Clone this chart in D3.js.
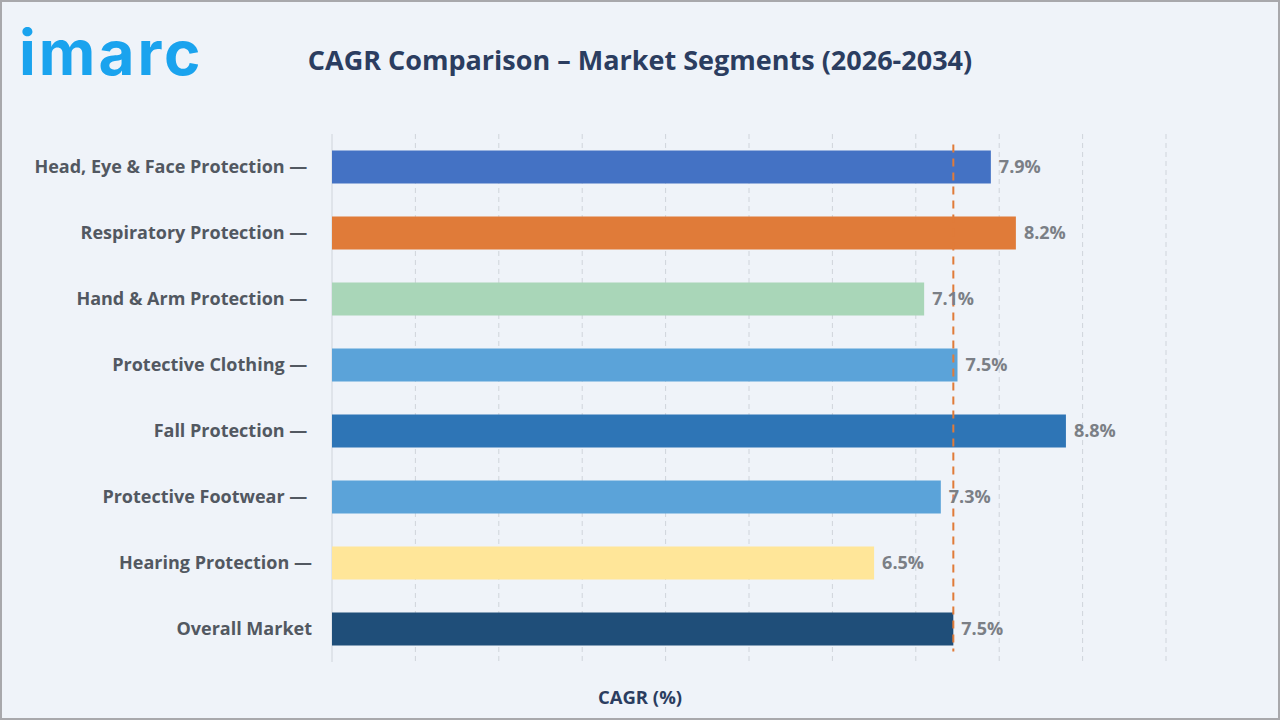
<!DOCTYPE html>
<html>
<head>
<meta charset="utf-8">
<script src="https://cdn.jsdelivr.net/npm/d3@7"></script>
<style>
  body { margin: 0; background: #ffffff; }
  svg { display: block; }
</style>
</head>
<body>
<svg id="chart" width="1280" height="720"></svg>
<script>
// chart data
var categories = [
    "Head, Eye & Face Protection \u2014 ",
    "Respiratory Protection \u2014 ",
    "Hand & Arm Protection \u2014 ",
    "Protective Clothing \u2014 ",
    "Fall Protection \u2014 ",
    "Protective Footwear \u2014 ",
    "Hearing Protection \u2014",
    "Overall Market"
];
var cagrValues = [7.9, 8.2, 7.1, 7.5, 8.8, 7.3, 6.5, 7.45];
var valueLabels = ["7.9%", "8.2%", "7.1%", "7.5%", "8.8%", "7.3%", "6.5%", "7.5%"];
var barColors = ["#4472c4", "#e07b39", "#a9d6b8", "#5ba3d9", "#2e75b6", "#5ba3d9", "#ffe699", "#1f4e79"];
var xTicks = [0, 1, 2, 3, 4, 5, 6, 7, 8, 9, 10];
var overallIndex = 7;

var svg = d3.select("#chart");
var W = 1280, H = 720;

// background + frame
svg.append("rect")
    .attr("x", 1).attr("y", 1)
    .attr("width", W - 2).attr("height", H - 2)
    .attr("fill", "#eff3f9")
    .attr("stroke", "#a8a8ac")
    .attr("stroke-width", 2);

// logo
svg.append("text")
    .attr("x", 19)
    .attr("y", 75)
    .style("font-family", "Inter, sans-serif")
    .style("font-weight", "700")
    .style("font-size", "62px")
    .style("letter-spacing", "3px")
    .style("fill", "#1aa3ee")
    .text("imarc");

// title
svg.append("text")
    .attr("x", 640)
    .attr("y", 70)
    .attr("text-anchor", "middle")
    .style("font-family", "'Open Sans', sans-serif")
    .style("font-weight", "700")
    .style("font-size", "27px")
    .style("fill", "#2b3d60")
    .text("CAGR Comparison \u2013 Market Segments (2026-2034)");

var margin = { left: 332, right: 114, top: 134, bottom: 58 };
var plotW = W - margin.left - margin.right;
var plotH = H - margin.top - margin.bottom;

var x = d3.scaleLinear().domain([0, 10]).range([0, plotW]);
var y = d3.scaleBand().domain(categories).range([0, plotH]).paddingInner(0.5).paddingOuter(0.25);

var g = svg.append("g").attr("transform", "translate(" + margin.left + "," + margin.top + ")");

// gridlines
g.append("g").attr("class", "grid")
    .selectAll("line")
    .data(xTicks)
    .enter()
    .append("line")
    .attr("x1", function (d) { return x(d); })
    .attr("x2", function (d) { return x(d); })
    .attr("y1", 0)
    .attr("y2", plotH)
    .attr("stroke", "#cfd4db")
    .attr("stroke-width", 1)
    .attr("stroke-dasharray", function (d) { return d === 0 ? null : "5,4"; });

// bars
g.append("g").attr("class", "bars")
    .selectAll("rect")
    .data(categories)
    .enter()
    .append("rect")
    .attr("x", 0)
    .attr("y", function (d) { return y(d); })
    .attr("width", function (d, i) { return x(cagrValues[i]); })
    .attr("height", y.bandwidth())
    .attr("fill", function (d, i) { return barColors[i]; });

// overall market reference line
var overallX = x(cagrValues[overallIndex]);
g.append("line")
    .attr("x1", overallX)
    .attr("x2", overallX)
    .attr("y1", y(categories[0]) - 6)
    .attr("y2", y(categories[categories.length - 1]) + y.bandwidth() + 6)
    .attr("stroke", "#e07b39")
    .attr("stroke-width", 2)
    .attr("stroke-dasharray", "8,6");

// value labels
g.append("g").attr("class", "values")
    .selectAll("text")
    .data(categories)
    .enter()
    .append("text")
    .attr("x", function (d, i) { return x(cagrValues[i]) + 8; })
    .attr("y", function (d) { return y(d) + y.bandwidth() / 2; })
    .attr("dy", "0.35em")
    .style("font-family", "'Open Sans', sans-serif")
    .style("font-weight", "700")
    .style("font-size", "18px")
    .style("fill", "#7b7f86")
    .text(function (d, i) { return valueLabels[i]; });

// category labels
var yAxis = d3.axisLeft(y).tickSize(0).tickPadding(20);
g.append("g")
    .attr("class", "y-axis")
    .call(yAxis)
    .call(function (sel) { sel.select(".domain").remove(); })
    .selectAll("text")
    .style("font-family", "'Open Sans', sans-serif")
    .style("font-weight", "700")
    .style("font-size", "18px")
    .style("fill", "#525861")
    .style("white-space", "pre")
    .attr("xml:space", "preserve");

// x axis title
svg.append("text")
    .attr("x", 640)
    .attr("y", 704)
    .attr("text-anchor", "middle")
    .style("font-family", "'Open Sans', sans-serif")
    .style("font-weight", "700")
    .style("font-size", "18.5px")
    .style("fill", "#2b3d60")
    .text("CAGR (%)");
</script>
</body>
</html>
